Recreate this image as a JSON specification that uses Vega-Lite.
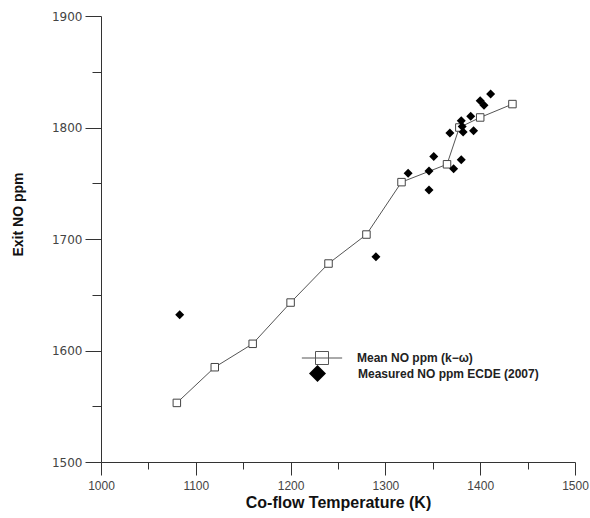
{
  "$schema": "https://vega.github.io/schema/vega-lite/v6.json",
  "width": 474,
  "height": 446,
  "autosize": {"type": "none"},
  "padding": {"left": 101, "top": 16, "right": 15, "bottom": 56},
  "background": "white",
  "config": {
    "view": {"stroke": null},
    "font": "Liberation Sans",
    "axis": {
      "grid": false,
      "domainColor": "#333",
      "tickColor": "#333",
      "domainWidth": 1,
      "tickWidth": 1,
      "labelColor": "#444",
      "titleColor": "#111",
      "titleFont": "Liberation Sans",
      "titleFontWeight": "bold"
    },
    "legend": {
      "labelFont": "Liberation Sans",
      "labelFontSize": 12,
      "labelFontWeight": "bold",
      "labelColor": "#222",
      "labelLimit": 300,
      "padding": 0
    }
  },
  "data": {
    "values": [
      {"T": 1080, "NO": 1553, "series": "Mean NO ppm (k−ω)"},
      {"T": 1120, "NO": 1585, "series": "Mean NO ppm (k−ω)"},
      {"T": 1160, "NO": 1606, "series": "Mean NO ppm (k−ω)"},
      {"T": 1200, "NO": 1643, "series": "Mean NO ppm (k−ω)"},
      {"T": 1240, "NO": 1678, "series": "Mean NO ppm (k−ω)"},
      {"T": 1280, "NO": 1704, "series": "Mean NO ppm (k−ω)"},
      {"T": 1317, "NO": 1751, "series": "Mean NO ppm (k−ω)"},
      {"T": 1365, "NO": 1767, "series": "Mean NO ppm (k−ω)"},
      {"T": 1378, "NO": 1800, "series": "Mean NO ppm (k−ω)"},
      {"T": 1400, "NO": 1809, "series": "Mean NO ppm (k−ω)"},
      {"T": 1434, "NO": 1821, "series": "Mean NO ppm (k−ω)"},
      {"T": 1083, "NO": 1632, "series": "Measured NO ppm ECDE (2007)"},
      {"T": 1290, "NO": 1684, "series": "Measured NO ppm ECDE (2007)"},
      {"T": 1324, "NO": 1759, "series": "Measured NO ppm ECDE (2007)"},
      {"T": 1346, "NO": 1761, "series": "Measured NO ppm ECDE (2007)"},
      {"T": 1346, "NO": 1744, "series": "Measured NO ppm ECDE (2007)"},
      {"T": 1351, "NO": 1774, "series": "Measured NO ppm ECDE (2007)"},
      {"T": 1368, "NO": 1795, "series": "Measured NO ppm ECDE (2007)"},
      {"T": 1372, "NO": 1763, "series": "Measured NO ppm ECDE (2007)"},
      {"T": 1380, "NO": 1771, "series": "Measured NO ppm ECDE (2007)"},
      {"T": 1380, "NO": 1806, "series": "Measured NO ppm ECDE (2007)"},
      {"T": 1381, "NO": 1801, "series": "Measured NO ppm ECDE (2007)"},
      {"T": 1382, "NO": 1796, "series": "Measured NO ppm ECDE (2007)"},
      {"T": 1393, "NO": 1797, "series": "Measured NO ppm ECDE (2007)"},
      {"T": 1390, "NO": 1810, "series": "Measured NO ppm ECDE (2007)"},
      {"T": 1400, "NO": 1824, "series": "Measured NO ppm ECDE (2007)"},
      {"T": 1404, "NO": 1820, "series": "Measured NO ppm ECDE (2007)"},
      {"T": 1411, "NO": 1830, "series": "Measured NO ppm ECDE (2007)"}
    ]
  },
  "resolve": {"axis": {"x": "independent", "y": "independent"}},
  "layer": [
    {
      "transform": [{"filter": "datum.series === 'Mean NO ppm (k−ω)'"}],
      "mark": {"type": "line", "strokeWidth": 1},
      "encoding": {
        "x": {
          "field": "T",
          "type": "quantitative",
          "scale": {"domain": [1000, 1500], "nice": false, "zero": false},
          "axis": {
            "orient": "bottom",
            "title": null,
            "values": [1050, 1150, 1250, 1350, 1450],
            "labels": false,
            "domain": false,
            "tickSize": 7
          }
        },
        "y": {
          "field": "NO",
          "type": "quantitative",
          "scale": {"domain": [1500, 1900], "nice": false, "zero": false},
          "axis": {
            "orient": "left",
            "title": null,
            "values": [1550, 1650, 1750, 1850],
            "labels": false,
            "domain": false,
            "tickSize": 9
          }
        },
        "stroke": {
          "field": "series",
          "type": "nominal",
          "scale": {"range": ["#555"]},
          "legend": {
            "title": null,
            "orient": "none",
            "legendX": 214,
            "legendY": 335,
            "symbolType": "M-3.1,0H3.1M-1,-1H1V1H-1Z",
            "symbolSize": 169,
            "symbolStrokeWidth": 1,
            "symbolStrokeColor": "#111",
            "symbolFillColor": "white",
            "labelOffset": 28
          }
        }
      }
    },
    {
      "transform": [{"filter": "datum.series === 'Mean NO ppm (k−ω)'"}],
      "mark": {"type": "point", "shape": "square", "size": 56, "filled": true, "fill": "white", "stroke": "#444", "strokeWidth": 1, "opacity": 1},
      "encoding": {
        "x": {
          "field": "T",
          "type": "quantitative",
          "axis": {
            "orient": "bottom",
            "title": "Co-flow Temperature (K)",
            "titleFontSize": 16,
            "titleY": 45,
            "titleBaseline": "alphabetic",
            "values": [1000, 1100, 1200, 1300, 1400, 1500],
            "format": "d",
            "labelFont": "Liberation Sans",
            "labelFontSize": 12,
            "labelPadding": 5,
            "labelFlush": false,
            "labelOverlap": false,
            "tickSize": 13
          }
        },
        "y": {
          "field": "NO",
          "type": "quantitative",
          "axis": {
            "orient": "left",
            "title": "Exit NO ppm",
            "titleFontSize": 14,
            "titleX": -79,
            "titleY": 198,
            "titleBaseline": "alphabetic",
            "values": [1500, 1600, 1700, 1800, 1900],
            "format": "d",
            "labelFont": "DejaVu Sans",
            "labelFontSize": 12,
            "labelPadding": 3,
            "labelFlush": false,
            "labelOverlap": false,
            "tickSize": 16
          }
        }
      }
    },
    {
      "transform": [{"filter": "datum.series === 'Measured NO ppm ECDE (2007)'"}],
      "mark": {"type": "point", "shape": "diamond", "size": 81, "filled": true, "opacity": 1},
      "encoding": {
        "x": {"field": "T", "type": "quantitative", "axis": null},
        "y": {"field": "NO", "type": "quantitative", "axis": null},
        "fill": {
          "field": "series",
          "type": "nominal",
          "scale": {"range": ["black"]},
          "legend": {
            "title": null,
            "orient": "none",
            "legendX": 207,
            "legendY": 348,
            "symbolType": "diamond",
            "symbolSize": 289,
            "labelOffset": 31
          }
        }
      }
    }
  ]
}
